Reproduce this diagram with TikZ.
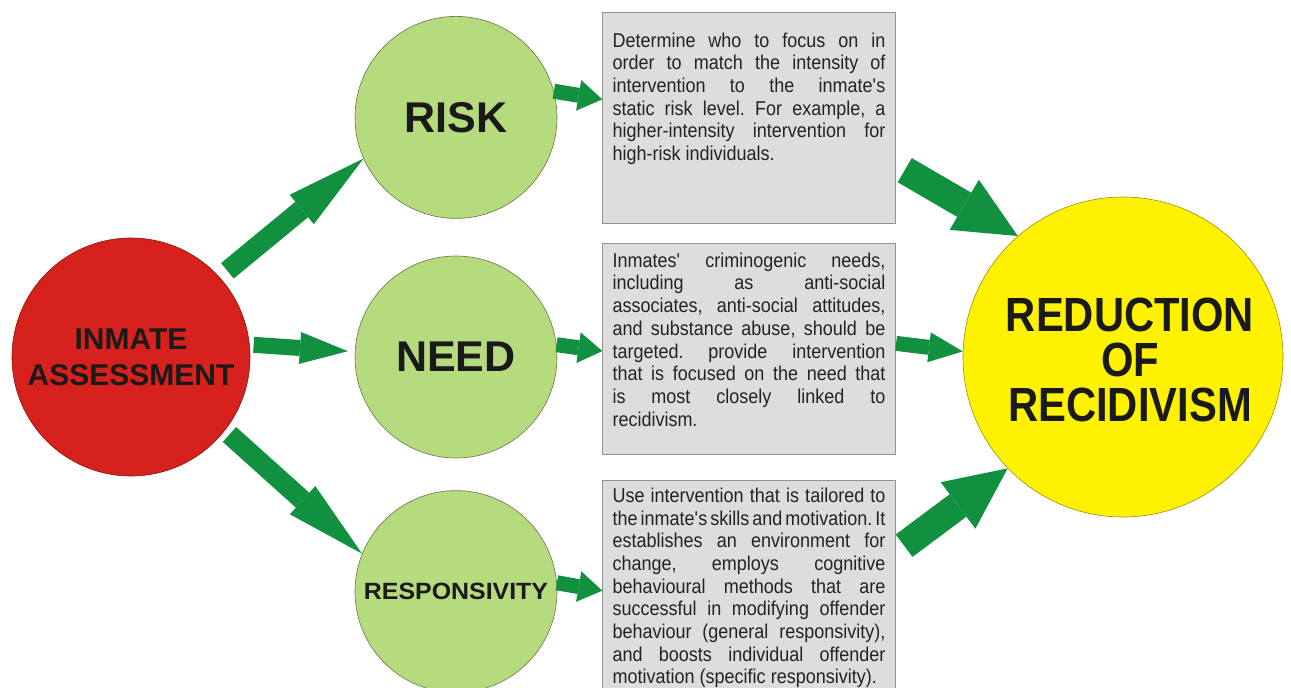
\documentclass[tikz,border=0pt]{standalone}
\usepackage{fontspec}
\setmainfont{Liberation Sans}
\newfontfamily\notefamily[FakeStretch=0.9]{Liberation Sans}
\newfontfamily\narrowfamily[FakeStretch=0.87]{Liberation Sans}
\newfontfamily\widefamily[FakeStretch=1.06]{Liberation Sans}
\usetikzlibrary{
  arrows.meta,
  positioning,
  calc
}
\definecolor{assesscolor}{RGB}{214, 33, 28}
\definecolor{stagecolor}{RGB}{182, 218, 126}
\definecolor{goalcolor}{RGB}{255, 242, 0}
\definecolor{flowcolor}{RGB}{17, 145, 64}
\definecolor{notefill}{RGB}{221, 221, 221}
\definecolor{noteline}{RGB}{145, 145, 145}
\definecolor{notetextcolor}{RGB}{35, 35, 35}
\definecolor{titlecolor}{RGB}{26, 26, 26}
\newcommand{\apo}{\textquotesingle}
\newcommand{\notesetup}{%
  \fontsize{20}{22.7}\selectfont\frenchspacing
  \spaceskip=0.26em plus 0.8em minus 0.16em
  \tolerance=10000\hyphenpenalty=10000\relax}
\tikzset{
titletext/.style={
  align=center,
  text=titlecolor,
  font=\bfseries\fontsize{43}{46}\selectfont
},
hub/.style={
  circle,
  draw=assesscolor!65!black,
  line width=0.6pt,
  fill=assesscolor,
  minimum size=238pt,
  inner sep=0pt,
  titletext,
  font=\bfseries\fontsize{30}{36}\selectfont
},
stage/.style={
  circle,
  draw=stagecolor!55!black,
  line width=0.6pt,
  fill=stagecolor,
  minimum size=202pt,
  inner sep=0pt,
  titletext
},
goal/.style={
  circle,
  draw=goalcolor!60!black,
  line width=0.6pt,
  fill=goalcolor,
  minimum size=320pt,
  inner sep=0pt
},
notebox/.style={
  rectangle,
  draw=noteline,
  line width=0.8pt,
  fill=notefill,
  minimum width=293pt,
  minimum height=211pt,
  inner sep=0pt
},
notetext/.style={
  anchor=north west,
  inner sep=0pt,
  text width=273pt,
  align=justify,
  text=notetextcolor,
  font=\notefamily,
  execute at begin node=\notesetup
},
legarr/.style={
  draw=flowcolor,
  line width=20pt,
  -{Triangle[length=80pt,width=38pt,line width=0pt]}
},
sidearr/.style={
  draw=flowcolor,
  line width=16pt,
  -{Triangle[length=48pt,width=32pt,line width=0pt]}
},
stubarr/.style={
  draw=flowcolor,
  line width=15pt,
  -{Triangle[length=24pt,width=31pt,line width=0pt]}
},
goalarr/.style={
  draw=flowcolor,
  line width=15pt,
  -{Triangle[length=34pt,width=30pt,line width=0pt]}
},
bigarr/.style={
  draw=flowcolor,
  line width=28pt,
  -{Triangle[length=62pt,width=58pt,line width=0pt]}
}
}

\begin{document}
\begin{tikzpicture}[x=1pt, y=-1pt]
  \fill[white] (0,0) rectangle (1291,688);
  \useasboundingbox (0,0) rectangle (1291,688);

  % Assessment hub and the three principles
  \node[hub] (assess) at (131,357) {INMATE\\ASSESSMENT};
  \node[stage] (need) at (456,357) {NEED};
  \node[stage, above=37pt of need] (risk) {RISK};
  \node[stage, below=32pt of need, font=\widefamily\bfseries\fontsize{23.5}{26}\selectfont] (resp) {RESPONSIVITY};

  % Explanation boxes
  \node[notebox, right=45pt of risk] (riskbox) {};
  \node[notebox, right=45pt of need, yshift=8.5pt] (needbox) {};
  \node[notebox, right=45pt of resp, yshift=6pt] (respbox) {};

  \node[notetext] (risknote) at ($(riskbox.north west)+(10,21)$) {Determine who to focus on in\linebreak
    order to match the intensity of\linebreak
    intervention to the inmate\apo s\linebreak
    static risk level. For example, a\linebreak
    higher-intensity intervention for\linebreak
    high-risk individuals.};
  \node[notetext] (neednote) at ($(needbox.north west)+(10,10)$) {Inmates\apo{} criminogenic needs,\linebreak
    including as anti-social\linebreak
    associates, anti-social attitudes,\linebreak
    and substance abuse, should be\linebreak
    targeted. provide intervention\linebreak
    that is focused on the need that\linebreak
    is most closely linked to\linebreak
    recidivism.};
  \node[notetext] (respnote) at ($(respbox.north west)+(10,8)$) {Use intervention that is tailored to\linebreak
    the inmate\apo s skills and motivation. It\linebreak
    establishes an environment for\linebreak
    change, employs cognitive\linebreak
    behavioural methods that are\linebreak
    successful in modifying offender\linebreak
    behaviour (general responsivity),\linebreak
    and boosts individual offender\linebreak
    motivation (specific responsivity).};

  % Outcome
  \node[goal] (goal) at (1123,357) {};
  \node[titletext, font=\narrowfamily\bfseries\fontsize{48}{45}\selectfont] (goaltext) at (1130,360) {REDUCTION\\OF\\RECIDIVISM};

  % Arrows from the hub
  \draw[legarr, shorten <=10pt] (assess.42) -- (risk.204);
  \draw[sidearr, shorten <=4pt, shorten >=7pt] (assess.6) -- (need.177);
  \draw[legarr, shorten <=6pt] (assess.-38) -- (resp.158);

  % Principles to their boxes
  \draw[stubarr] (risk.15) -- (riskbox.173);
  \draw[stubarr] (need.7) -- (needbox.181);
  \draw[stubarr] (resp.5) -- (respbox.182);

  % Boxes to the outcome
  \draw[bigarr, shorten <=10pt] (riskbox.-18) -- (goal.131);
  \draw[goalarr] (needbox.2) -- (goal.178);
  \draw[bigarr, shorten <=10pt] (respbox.13) -- (goal.224);
\end{tikzpicture}
\end{document}
